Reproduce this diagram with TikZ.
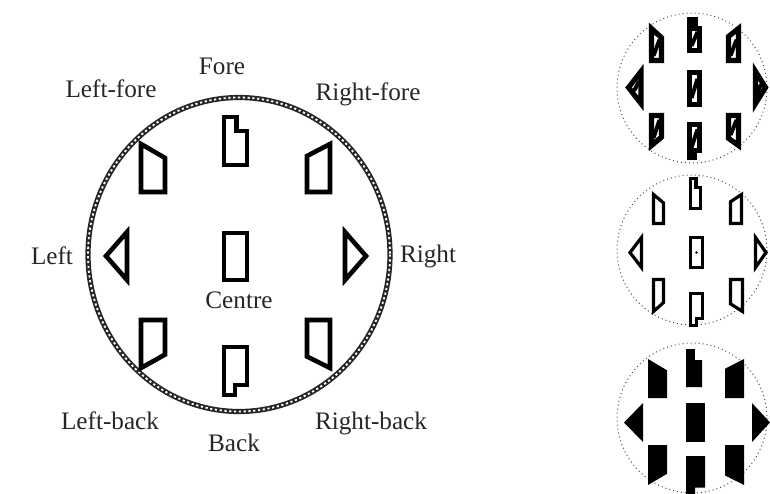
\documentclass[tikz,border=0pt]{standalone}
\usepackage{fontspec}
\setmainfont{Liberation Serif}
\usetikzlibrary{positioning}

\begin{document}
\begin{tikzpicture}[
    x=0.5pt, y=-0.5pt,
    lbl/.style={font=\fontsize{12.6}{15}\selectfont, text=black!85, inner sep=0pt},
    ring/.style={draw=black!85, line width=2.6pt},
    ringlinks/.style={draw=white, line width=0.9pt, dash pattern=on 1.1pt off 1.3pt},
    dotring/.style={draw=black!70, line width=0.5pt, dash pattern=on 0.5pt off 1.5pt},
    shapeline/.style={draw},
    slash/.style={},
    forebox/.pic={\path[shapeline] (0,0) -- (0.55,0) -- (0.55,0.29) -- (1,0.29) -- (1,1) -- (0,1) -- cycle;
                  \path[slash] (0.2,0.85) -- (0.8,0.4);},
    leftforebox/.pic={\path[shapeline] (0,0) -- (1,0.29) -- (1,1) -- (0,1) -- cycle;
                  \path[slash] (0.2,0.85) -- (0.8,0.35);},
    rightforebox/.pic={\path[shapeline] (0,0.25) -- (1,0) -- (1,1) -- (0,1) -- cycle;
                  \path[slash] (0.2,0.85) -- (0.8,0.35);},
    leftbox/.pic={\path[shapeline] (1,0) -- (0,0.5) -- (1,1) -- cycle;
                  \path[slash] (0.45,0.6) -- (0.85,0.3);},
    centrebox/.pic={\path[shapeline] (0,0) -- (1,0) -- (1,1) -- (0,1) -- cycle;
                  \path[slash] (0.2,0.8) -- (0.8,0.2);},
    rightbox/.pic={\path[shapeline] (0,0) -- (1,0.5) -- (0,1) -- cycle;
                  \path[slash] (0.15,0.7) -- (0.55,0.4);},
    leftbackbox/.pic={\path[shapeline] (0,0) -- (1,0) -- (1,0.72) -- (0,1) -- cycle;
                  \path[slash] (0.2,0.75) -- (0.8,0.15);},
    backbox/.pic={\path[shapeline] (0,0) -- (1,0) -- (1,0.79) -- (0.48,0.79) -- (0.48,1) -- (0,1) -- cycle;
                  \path[slash] (0.2,0.7) -- (0.8,0.15);},
    rightbackbox/.pic={\path[shapeline] (0,0) -- (1,0) -- (1,1) -- (0,0.76) -- cycle;
                  \path[slash] (0.2,0.65) -- (0.8,0.15);}
]
\useasboundingbox (0,0) rectangle (770,493);
\clip (0,0) rectangle (770,493);

% Main ring
\draw[ring] (239,254.5) ellipse [x radius=151, y radius=157];
\draw[ringlinks] (239,254.5) ellipse [x radius=151, y radius=157];

% Main positions
\begin{scope}[shapeline/.style={draw=black, line width=2.3pt}]
\pic[xscale=23, yscale=48] at (224,117) {forebox};
\pic[xscale=24, yscale=48] at (141,144) {leftforebox};
\pic[xscale=23, yscale=48] at (307,144) {rightforebox};
\pic[xscale=21, yscale=48] at (106,232) {leftbox};
\pic[xscale=23, yscale=47] at (224,233) {centrebox};
\pic[xscale=21, yscale=48] at (345,232) {rightbox};
\pic[xscale=24, yscale=48] at (141,320) {leftbackbox};
\pic[xscale=23, yscale=48] at (224,347) {backbox};
\pic[xscale=23, yscale=48] at (307,320) {rightbackbox};
\end{scope}

% Labels
\node[lbl] (fore) at (222,66) {Fore};
\node[lbl] (leftfore) at (111,89) {Left-fore};
\node[lbl] (rightfore) at (368,94) {Right-fore};
\node[lbl] (left) at (52,256) {Left};
\node[lbl] (right) at (428,256) {Right};
\node[lbl] (centre) at (239,300) {Centre};
\node[lbl] (leftback) at (110,421) {Left-back};
\node[lbl] (back) at (234,443) {Back};
\node[lbl] (rightback) at (371,423) {Right-back};

% Small rings
\draw[dotring] (692,88) circle [radius=75];
\draw[dotring] (692,250) circle [radius=75];
\draw[dotring] (692,418) circle [radius=75];

% Top: heavy outlines with a slash
\begin{scope}[shapeline/.style={draw=black, fill=white, line width=2.6pt},
              slash/.style={draw=black, line width=2pt}]
\pic[xscale=10, yscale=31] at (689.5,19.5) {forebox};
\pic[xscale=10, yscale=32] at (651.5,28.5) {leftforebox};
\pic[xscale=10, yscale=32] at (728.5,28.5) {rightforebox};
\pic[xscale=12.5, yscale=32] at (628.5,71.5) {leftbox};
\pic[xscale=10, yscale=32] at (689.5,72.5) {centrebox};
\pic[xscale=10, yscale=32] at (755.5,71.5) {rightbox};
\pic[xscale=10, yscale=30] at (651.5,115.5) {leftbackbox};
\pic[xscale=10, yscale=33] at (689.5,124.5) {backbox};
\pic[xscale=10, yscale=30] at (728.5,115.5) {rightbackbox};
\end{scope}

% Middle: thin outlines
\begin{scope}[shapeline/.style={draw=black, line width=1.6pt}]
\pic[xscale=10, yscale=30] at (690.5,178.5) {forebox};
\pic[xscale=10, yscale=29] at (653.5,194.5) {leftforebox};
\pic[xscale=11, yscale=29] at (730.5,194.5) {rightforebox};
\pic[xscale=11.5, yscale=30] at (630,237.5) {leftbox};
\pic[xscale=12, yscale=30] at (690.5,237.5) {centrebox};
\pic[xscale=10.5, yscale=30] at (755.5,237.5) {rightbox};
\pic[xscale=10, yscale=32] at (653.5,279.5) {leftbackbox};
\pic[xscale=12, yscale=32] at (690.5,293.5) {backbox};
\pic[xscale=12, yscale=32] at (730.5,279.5) {rightbackbox};
\end{scope}
\fill (696.5,252.5) circle [radius=1.3];

% Bottom: solid shapes
\begin{scope}[shapeline/.style={fill=black}]
\pic[xscale=16, yscale=38] at (686,349) {forebox};
\pic[xscale=19, yscale=39] at (648,359) {leftforebox};
\pic[xscale=19, yscale=39] at (725,359) {rightforebox};
\pic[xscale=19, yscale=39] at (624,403) {leftbox};
\pic[xscale=19, yscale=39] at (686,403) {centrebox};
\pic[xscale=18, yscale=39] at (752,403) {rightbox};
\pic[xscale=19, yscale=40] at (648,445) {leftbackbox};
\pic[xscale=19, yscale=40] at (686,456) {backbox};
\pic[xscale=19, yscale=40] at (725,445) {rightbackbox};
\end{scope}

\end{tikzpicture}
\end{document}
